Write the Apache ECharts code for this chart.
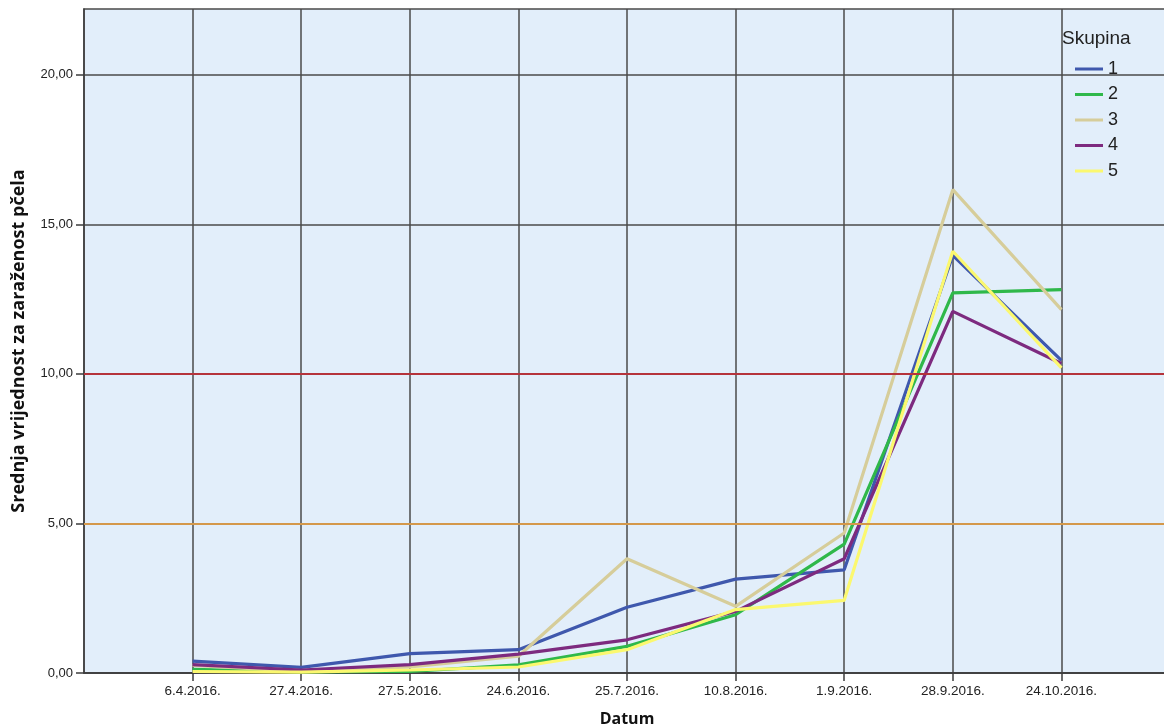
<!DOCTYPE html>
<html>
<head>
<meta charset="utf-8">
<script src="https://cdn.jsdelivr.net/npm/echarts@6/dist/echarts.min.js"></script>
<style>
  html, body { margin: 0; padding: 0; background: #ffffff; overflow: hidden; }
  #chart { width: 1164px; height: 727px; }
</style>
</head>
<body>
<div id="chart"></div>
<script>
// Sampling dates (category axis)
const dates = ['6.4.2016.', '27.4.2016.', '27.5.2016.', '24.6.2016.', '25.7.2016.',
               '10.8.2016.', '1.9.2016.', '28.9.2016.', '24.10.2016.'];

// Mean infestation value per group
const skupina1 = [0.40, 0.19, 0.65, 0.78, 2.20, 3.14, 3.45, 13.96, 10.45];
const skupina2 = [0.12, 0.04, 0.05, 0.27, 0.89, 1.95, 4.31, 12.71, 12.82];
const skupina3 = [0.25, 0.05, 0.20, 0.56, 3.82, 2.23, 4.68, 16.16, 12.15];
const skupina4 = [0.28, 0.10, 0.28, 0.63, 1.11, 2.06, 3.82, 12.09, 10.35];
const skupina5 = [0.05, 0.03, 0.10, 0.20, 0.78, 2.12, 2.43, 14.10, 10.20];

const groupNames = ['1', '2', '3', '4', '5'];
const groupColors = ['#3f58ad', '#2fb84a', '#d6cd9a', '#7d2a7f', '#fbf86f'];

// Y axis ticks and threshold lines
const yTicks = [0, 5, 10, 15, 20];
const thresholds = [
  { value: 5, color: '#d4984a' },
  { value: 10, color: '#b5333b' }
];

// Blank slot at each end of the category axis
const xCategories = [''].concat(dates, ['']);
const pad = arr => [null].concat(arr, [null]);
const groups = [skupina1, skupina2, skupina3, skupina4, skupina5];

const fmt = v => v.toFixed(2).replace('.', ',');

const chart = echarts.init(document.getElementById('chart'), null, { renderer: 'canvas' });

const series = groups.map((g, i) => ({
  name: groupNames[i],
  type: 'line',
  data: pad(g),
  symbol: 'none',
  z: 3,
  lineStyle: { color: groupColors[i], width: 3.2 },
  itemStyle: { color: groupColors[i] }
}));

series.push({
  name: 'ref',
  type: 'line',
  data: [],
  z: 2,
  silent: true,
  markLine: {
    silent: true,
    symbol: 'none',
    label: { show: false },
    animation: false,
    data: thresholds.map(t => ({
      yAxis: t.value,
      lineStyle: { color: t.color, width: 2, type: 'solid' }
    }))
  }
});

chart.setOption({
  animation: false,
  backgroundColor: '#ffffff',
  title: {
    text: 'Skupina',
    left: 1057,
    top: 24,
    textStyle: { fontFamily: 'Liberation Sans', fontSize: 19, fontWeight: 'normal', color: '#222' }
  },
  legend: {
    data: groupNames,
    orient: 'vertical',
    left: 1070,
    top: 55,
    icon: 'rect',
    itemWidth: 28,
    itemHeight: 3,
    itemGap: 7.5,
    textStyle: { fontFamily: 'Liberation Sans', fontSize: 18, color: '#222', lineHeight: 18 }
  },
  grid: {
    left: 84,
    top: 9,
    width: 1086,
    height: 664,
    outerBoundsMode: 'none',
    containLabel: false,
    show: true,
    backgroundColor: '#e2eefa',
    borderColor: '#4a4a4a',
    borderWidth: 1.5
  },
  xAxis: {
    type: 'category',
    data: xCategories,
    boundaryGap: false,
    name: 'Datum',
    nameLocation: 'middle',
    nameGap: 38,
    nameTextStyle: { fontFamily: 'Open Sans', fontWeight: 'bold', fontSize: 16, color: '#111' },
    axisLine: { lineStyle: { color: '#3c3c3c', width: 1.5 } },
    axisTick: {
      length: 8,
      interval: i => i > 0 && i < xCategories.length - 1,
      lineStyle: { color: '#3c3c3c', width: 1.5 }
    },
    axisLabel: {
      interval: 0,
      margin: 11,
      fontFamily: 'Liberation Sans',
      fontSize: 13.5,
      color: '#222'
    },
    splitLine: {
      show: true,
      interval: i => i > 0 && i < xCategories.length - 1,
      lineStyle: { color: '#4a4a4a', width: 1.5 }
    }
  },
  yAxis: {
    type: 'value',
    min: 0,
    max: 22.2,
    interval: 5,
    name: 'Srednja vrijednost za zaraženost pčela',
    nameLocation: 'middle',
    nameGap: 56,
    nameRotate: 90,
    nameTextStyle: { fontFamily: 'Open Sans', fontWeight: 'bold', fontSize: 18, color: '#111' },
    axisLine: { show: true, lineStyle: { color: '#3c3c3c', width: 1.5 } },
    axisTick: { show: true, length: 8, customValues: yTicks, lineStyle: { color: '#3c3c3c', width: 1.5 } },
    axisLabel: {
      customValues: yTicks,
      margin: 11,
      fontFamily: 'Liberation Sans',
      fontSize: 13,
      color: '#222',
      formatter: v => fmt(v)
    },
    splitLine: { show: true, lineStyle: { color: '#4a4a4a', width: 1.5 } }
  },
  series: series
});
</script>
</body>
</html>
